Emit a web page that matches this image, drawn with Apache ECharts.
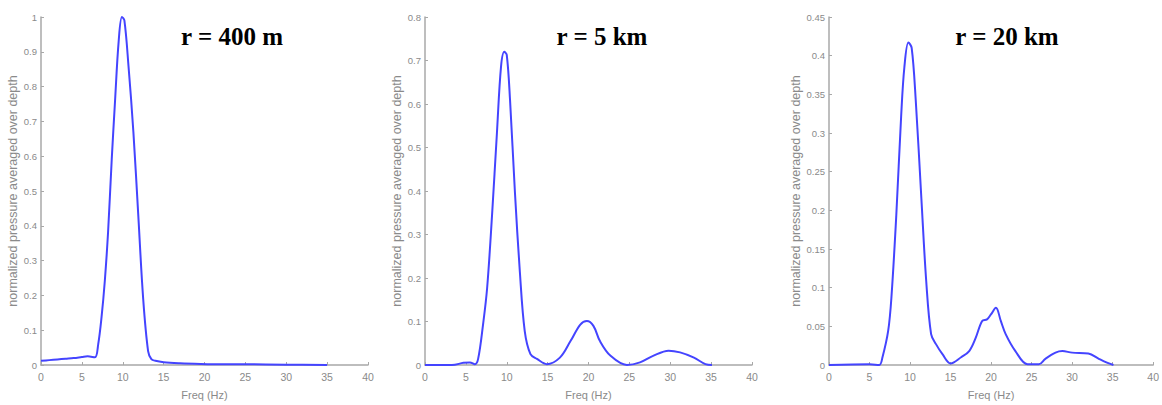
<!DOCTYPE html>
<html>
<head>
<meta charset="utf-8">
<script src="https://cdn.jsdelivr.net/npm/echarts@6/dist/echarts.min.js"></script>
<style>
html,body{margin:0;padding:0;background:#fff;}
#chart{width:1162px;height:405px;}
</style>
</head>
<body>
<div id="chart"></div>
<script>
// Panel titles
const panelTitles = ['r = 400 m', 'r = 5 km', 'r = 20 km'];
const xAxisName = 'Freq (Hz)';
const yAxisName = 'normalized pressure averaged over depth';

// Panel 1: r = 400 m
const freq1 = [0,1,2,3,4,5,5.7,6.6,7,7.4,7.8,8.2,8.65,9.06,9.5,9.9,10.2,10.7,11.3,11.9,12.5,13.1,13.5,14,15,17,19.5,22,25,30,35];
const val1  = [0.012,0.014,0.016,0.018,0.02,0.023,0.025,0.022,0.06,0.136,0.24,0.38,0.59,0.76,0.93,1.0,0.99,0.86,0.67,0.43,0.19,0.04,0.017,0.012,0.008,0.005,0.003,0.002,0.002,0.001,0.0];

// Panel 2: r = 5 km
const freq2 = [0,3.3,4.7,5.5,6.1,6.5,7.1,7.6,8.2,8.8,9.3,9.7,10,10.4,11,11.6,12.2,12.9,13.7,14.9,16.5,17.8,19,19.8,20.6,21.4,22.7,24.7,26.3,27.9,29.8,31.2,32.9,34.3,35.1];
const val2  = [0,0,0.005,0.006,0.002,0.014,0.093,0.177,0.344,0.534,0.686,0.72,0.713,0.61,0.397,0.215,0.078,0.025,0.014,0.002,0.017,0.055,0.093,0.101,0.09,0.055,0.021,0,0.006,0.021,0.033,0.029,0.017,0.002,0];

// Panel 3: r = 20 km
const freq3 = [0,5,6.2,6.6,7.3,7.7,8.3,8.9,9.3,9.8,10.2,10.7,11.4,12,12.6,13.2,14,15,16.3,17.3,18.1,18.9,19.5,19.96,20.6,21.2,21.8,23,24.5,25.9,26.7,27.95,28.8,30,32,33.3,34.3,35.1];
const val3  = [0,0.001,0,0.01,0.044,0.087,0.193,0.321,0.385,0.417,0.41,0.343,0.215,0.108,0.04,0.027,0.014,0.002,0.01,0.018,0.035,0.057,0.059,0.065,0.074,0.057,0.04,0.018,0.001,0.001,0.008,0.016,0.018,0.016,0.015,0.008,0.003,0];

// Axis scales
const xMin = 0, xMax = 40, xInterval = 5;
const yMax = [1, 0.8, 0.45];
const yInterval = [0.1, 0.1, 0.05];

const freqs = [freq1, freq2, freq3];
const vals = [val1, val2, val3];

const layout = [
  {left: 41, width: 327, nameGap: 21, titleX: 232},
  {left: 425, width: 327, nameGap: 20, titleX: 602},
  {left: 829, width: 326, nameGap: 27, titleX: 1007}
];
const gridTop = 17, gridHeight = 351;

const axisGray = '#a8a8a8';
const labelGray = '#8a8a8a';

const chart = echarts.init(document.getElementById('chart'), null, {renderer: 'svg'});

const option = {
  animation: false,
  backgroundColor: '#fff',
  grid: layout.map(l => ({left: l.left, top: gridTop, width: l.width, height: gridHeight, containLabel: false})),
  xAxis: layout.map((l, i) => ({
    type: 'value', gridIndex: i, min: xMin, max: xMax, interval: xInterval,
    name: xAxisName, nameLocation: 'middle', nameGap: 24,
    nameTextStyle: {color: labelGray, fontSize: 11, fontFamily: 'Liberation Sans'},
    axisLine: {show: true, onZero: false, lineStyle: {color: axisGray, width: 1.5}},
    axisTick: {show: true, inside: true, length: 3, lineStyle: {color: axisGray}},
    axisLabel: {color: labelGray, fontSize: 10.5, margin: 6, fontFamily: 'Liberation Sans'},
    splitLine: {show: false}
  })),
  yAxis: layout.map((l, i) => ({
    type: 'value', gridIndex: i, min: 0, max: yMax[i], interval: yInterval[i],
    name: yAxisName, nameLocation: 'middle', nameGap: l.nameGap, nameRotate: 90,
    nameTextStyle: {color: labelGray, fontSize: 12.5, fontFamily: 'Liberation Sans'},
    axisLine: {show: true, onZero: false, lineStyle: {color: axisGray, width: 1.5}},
    axisTick: {show: true, inside: true, length: 3, lineStyle: {color: axisGray}},
    axisLabel: {color: labelGray, fontSize: 9.5, margin: 4, fontFamily: 'Liberation Sans'},
    splitLine: {show: false}
  })),
  series: vals.map((v, i) => ({
    type: 'line', xAxisIndex: i, yAxisIndex: i,
    data: freqs[i].map((f, k) => [f, v[k]]),
    showSymbol: false, smooth: 0.35,
    lineStyle: {color: '#4444ff', width: 2},
    itemStyle: {color: '#4444ff'}
  })),
  graphic: layout.map((l, i) => ({
    type: 'text', x: l.titleX, y: 36,
    style: {
      text: panelTitles[i], fill: '#000',
      font: 'bold 25px "Liberation Serif", "Times New Roman", serif',
      textAlign: 'center', textVerticalAlign: 'middle'
    }
  }))
};
chart.setOption(option);
</script>
</body>
</html>
